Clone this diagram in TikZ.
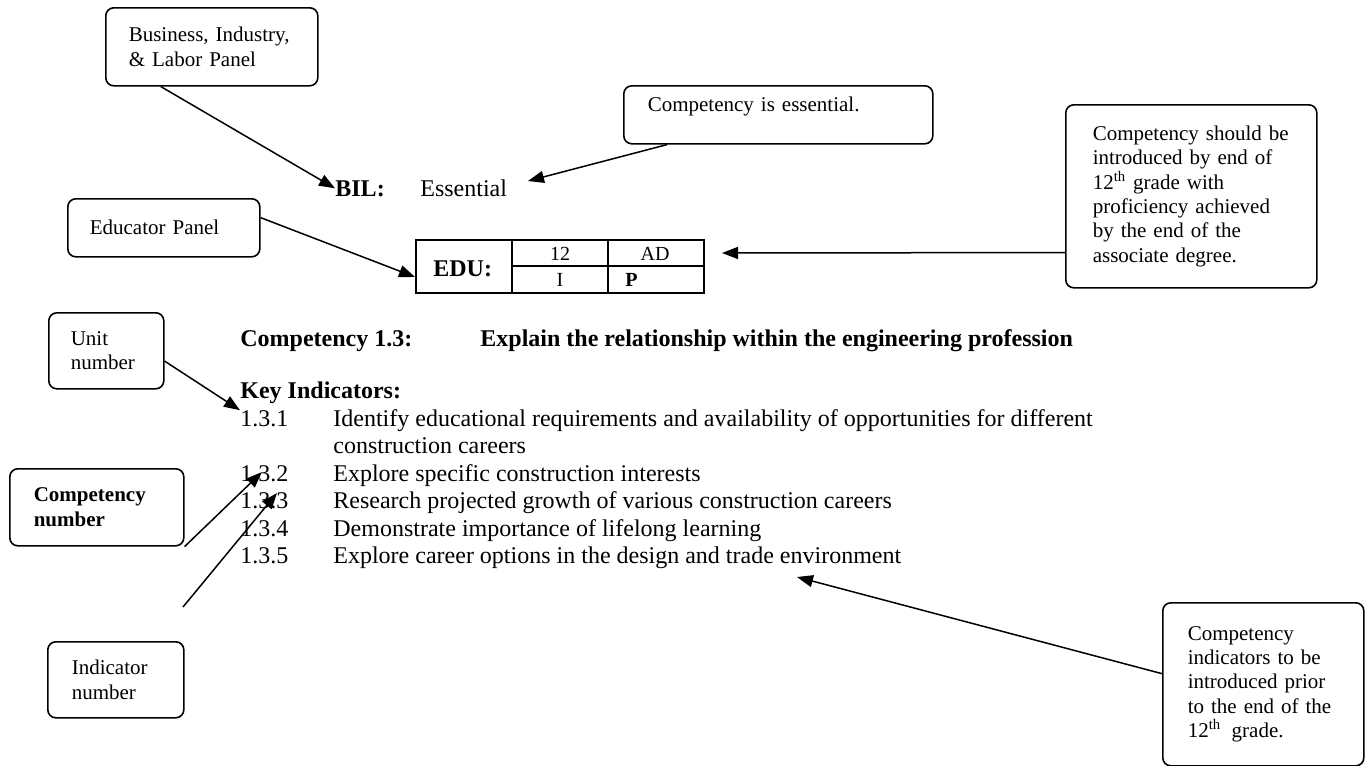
\documentclass[tikz,border=0pt]{standalone}
\usepackage{fontspec}
\setmainfont{Liberation Serif}
\usetikzlibrary{arrows.meta}

\tikzset{
	panel/.style={draw, line width=0.8pt, rounded corners=4pt, align=left, anchor=north west, inner ysep=0pt, font=\fontsize{10.5}{12.2}\selectfont},
	txt/.style={anchor=base west, inner sep=0pt, font=\fontsize{12}{13.7}\selectfont},
	txtb/.style={txt, font=\fontsize{12}{13.7}\selectfont\bfseries},
	cell/.style={anchor=base, inner sep=0pt, font=\fontsize{10}{12}\selectfont},
	pointer/.style={line width=0.75pt, -{Triangle[length=8pt,width=6pt]}},
}

\begin{document}
\begin{tikzpicture}[x=0.5pt, y=-0.5pt]
	\useasboundingbox (0,0) rectangle (1366,766);
	% call-out boxes
	\node[panel, text width=83pt, inner xsep=11.5pt, minimum height=39pt] (bilpanel) at (105,7) {Business, Industry,\\ \& Labor Panel};
	\node[panel, text width=130.5pt, inner xsep=12pt, minimum height=29pt, text depth=11pt] (essbox) at (623,85) {Competency is essential.};
	\node[panel, text width=74pt, inner xsep=11pt, minimum height=29pt] (edupanel) at (67,198) {Educator Panel};
	\node[panel, text width=98.5pt, inner xsep=13.5pt, minimum height=91.5pt] (levelbox) at (1065,104) {Competency should be\\ introduced by end of\\ 12\textsuperscript{th} grade with\\ proficiency achieved\\ by the end of the\\ associate degree.};
	\node[panel, text width=35.5pt, inner xsep=11pt, minimum height=38pt] (unitbox) at (48,312) {Unit\\ number};
	\node[panel, text width=63pt, inner xsep=12pt, minimum height=38.5pt, font=\fontsize{10.5}{12.2}\selectfont\bfseries] (compbox) at (9,468) {Competency\\ number};
	\node[panel, text width=44pt, inner xsep=12pt, minimum height=38pt] (indbox) at (47,641) {Indicator\\ number};
	\node[panel, text width=75.5pt, inner xsep=12.5pt, minimum height=81.5pt] (priorbox) at (1162,602) {Competency\\ indicators to be\\ introduced prior\\ to the end of the\\ 12\textsuperscript{th}\,\ grade.};

	% ratings
	\node[txtb] (bil) at (335,196) {BIL:};
	\node[txt] (ess) at (420,196) {Essential};
	\node[draw, line width=1.1pt, anchor=north west, minimum width=144pt, minimum height=26.5pt, inner sep=0pt] (edutab) at (415,239) {};
	\draw[line width=1.1pt] (512,239) -- (512,292) (608,239) -- (608,292) (512,266) -- (703,266);
	\node[txtb] (edu) at (433,276) {EDU:};
	\node[cell] (grade) at (560,260) {12};
	\node[cell] (degree) at (655,260) {AD};
	\node[cell] (intro) at (560,286) {I};
	\node[cell, anchor=base west, font=\fontsize{10}{12}\selectfont\bfseries] (prof) at (625,286) {P};

	% competency and indicators
	\node[txtb] (comp) at (240,346) {Competency 1.3:};
	\node[txtb] (compdesc) at (480,346) {Explain the relationship within the engineering profession};
	\node[txtb] (keyind) at (240,398) {Key Indicators:};
	\node[txt] (num1) at (240,426.5) {1.3.1};
	\node[txt] (ind1) at (333,426.5) {Identify educational requirements and availability of opportunities for different};
	\node[txt] (ind1b) at (333,453.9) {construction careers};
	\foreach \desc [count=\i from 2] in {Explore specific construction interests, Research projected growth of various construction careers, Demonstrate importance of lifelong learning, Explore career options in the design and trade environment}{
		\node[txt] (num\i) at (240,{426.5+27.4*\i}) {1.3.\i};
		\node[txt] (ind\i) at (333,{426.5+27.4*\i}) {\desc};
	}

	% arrow ends
	\coordinate (esstip) at (528,181);
	\coordinate (levtip) at (722,253);
	\coordinate (comptip) at (262,472);
	\coordinate (indstart) at (183,607);
	\coordinate (indtip) at (277,493);
	\coordinate (priortip) at (797,577);

	\draw[pointer] (bilpanel.218.5) -- (bil.west);
	\draw[pointer] (essbox.195.5) -- (esstip);
	\draw[pointer] (edupanel.6) -- (edutab.west |- 0,277);
	\draw[pointer] (levelbox.204.6) -- (levtip);
	\draw[pointer] (unitbox.350.1) -- (num1.north west);
	\draw[pointer] (compbox.south east) -- (comptip);
	\draw[pointer] (indstart) -- (indtip);
	\draw[pointer] (priorbox.174) -- (priortip);
\end{tikzpicture}
\end{document}
